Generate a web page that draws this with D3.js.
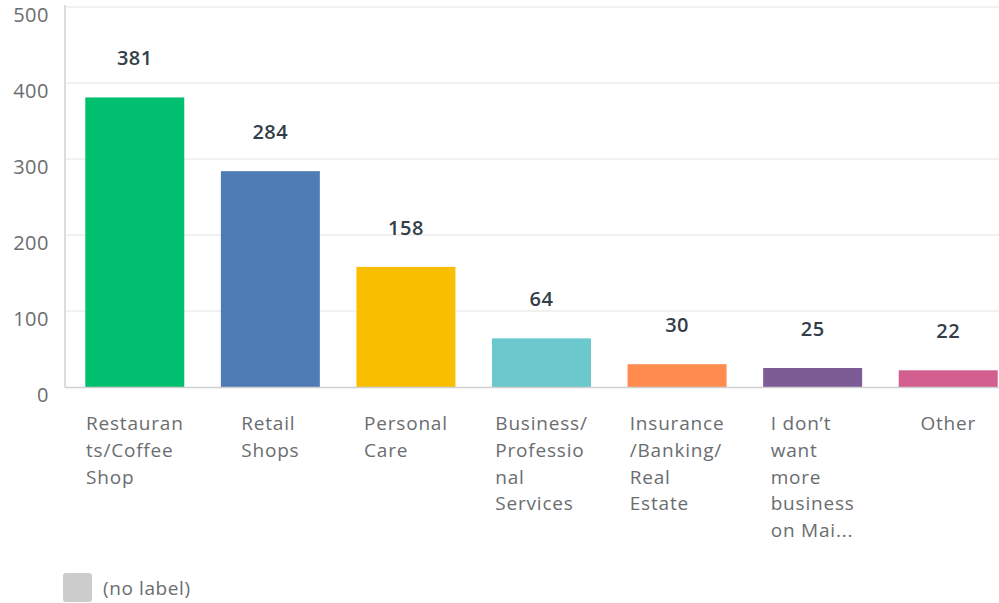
<!DOCTYPE html>
<meta charset="utf-8">
<style>
  body { margin: 0; padding: 0; background: #fff; }
  svg { display: block; background: #fff; }
  text { font-family: "Open Sans", sans-serif; }
</style>
<script src="https://d3js.org/d3.v7.min.js"></script>
<svg id="vis"></svg>
<script>
// chart data
const categories = ["Restaurants/Coffee Shop", "Retail Shops", "Personal Care", "Business/Professional Services",
  "Insurance/Banking/Real Estate", "I don't want more business on Mai...", "Other"];
const labelLines = [
  ["Restauran", "ts/Coffee", "Shop"],
  ["Retail", "Shops"],
  ["Personal", "Care"],
  ["Business/", "Professio", "nal", "Services"],
  ["Insurance", "/Banking/", "Real", "Estate"],
  ["I don\u2019t", "want", "more", "business", "on Mai..."],
  ["Other"]
];
const values = [381, 284, 158, 64, 30, 25, 22];
const barColors = ["#00bf6f", "#507cb6", "#f9be00", "#6bc8cd", "#ff8b4f", "#7d5c95", "#d25f90"];
const yTicks = [0, 100, 200, 300, 400, 500];

var width = 999, height = 603;
var svg = d3.select("#vis").attr("width", width).attr("height", height);

var x = d3.scaleBand()
  .domain(categories)
  .range([67, 1016])
  .paddingInner(0.27)
  .paddingOuter(0.135);

var y = d3.scaleLinear().domain([0, 500]).range([387, 7]);

// gridlines
svg.append("g")
  .selectAll("line")
  .data(yTicks.filter(d => d > 0))
  .enter().append("line")
    .attr("x1", 65).attr("x2", width)
    .attr("y1", d => y(d)).attr("y2", d => y(d))
    .attr("stroke", "#ececec").attr("stroke-width", 1.5);

// y tick labels
svg.append("g")
  .selectAll("text")
  .data(yTicks)
  .enter().append("text")
    .attr("x", 49)
    .attr("y", d => y(d) + 15)
    .attr("text-anchor", "end")
    .attr("font-size", 20)
    .attr("letter-spacing", 0.5)
    .attr("fill", "#6a6d70")
    .text(d => d);

// bars
svg.append("g")
  .selectAll("rect")
  .data(values)
  .enter().append("rect")
    .attr("x", (d, i) => x(categories[i]))
    .attr("width", x.bandwidth())
    .attr("y", d => y(d))
    .attr("height", d => y(0) - y(d))
    .attr("fill", (d, i) => barColors[i]);

// axes
svg.append("line")
  .attr("x1", 65).attr("x2", 65).attr("y1", 5).attr("y2", 387.5)
  .attr("stroke", "#d0d0d0").attr("stroke-width", 1.5);
svg.append("line")
  .attr("x1", 65).attr("x2", width).attr("y1", 387.5).attr("y2", 387.5)
  .attr("stroke", "#d0d0d0").attr("stroke-width", 1.5);

// value labels
svg.append("g")
  .selectAll("text")
  .data(values)
  .enter().append("text")
    .attr("x", (d, i) => x(categories[i]) + x.bandwidth() / 2)
    .attr("y", d => y(d) - 32)
    .attr("text-anchor", "middle")
    .attr("font-size", 20)
    .attr("font-weight", 600)
    .attr("letter-spacing", 0.5)
    .attr("fill", "#333e48")
    .text(d => d);

// category labels: block centred under bar, lines left aligned
var lab = svg.append("g")
  .selectAll("g")
  .data(labelLines)
  .enter().append("g");

lab.each(function(lines, i) {
  var g = d3.select(this);
  var t = g.append("text")
    .attr("font-size", 19)
    .attr("letter-spacing", 0.8)
    .attr("fill", "#6a6d70");
  lines.forEach((s, j) => {
    t.append("tspan").attr("x", 0).attr("y", 430 + j * 26.8).text(s);
  });
  var w = t.node().getBBox().width;
  var cx = x(categories[i]) + x.bandwidth() / 2;
  g.attr("transform", "translate(" + (cx - w / 2) + ",0)");
});

// legend
svg.append("rect")
  .attr("x", 63).attr("y", 573).attr("width", 29).attr("height", 29)
  .attr("rx", 3).attr("fill", "#cccccc");
svg.append("text")
  .attr("x", 103).attr("y", 595)
  .attr("font-size", 19)
  .attr("letter-spacing", 0.6)
  .attr("fill", "#6a6d70")
  .text("(no label)");
</script>
